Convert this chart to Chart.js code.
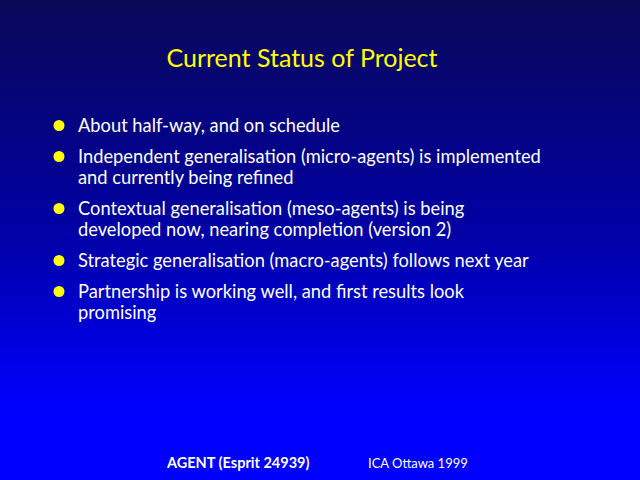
<!DOCTYPE html>
<html>
<head>
<meta charset="utf-8">
<script src="https://cdn.jsdelivr.net/npm/chart.js@4"></script>
<style>
  html, body { margin: 0; padding: 0; }
  body { width: 640px; height: 480px; overflow: hidden; }
  .slide {
    position: relative; width: 640px; height: 480px;
    background: linear-gradient(to bottom, #0a0858 0%, #0000a8 50%, #0000ff 85%, #0000ff 100%);
    font-family: Lato, "Open Sans", sans-serif;
  }
  .title {
    position: absolute; left: 0; width: 604px; top: 40px;
    text-align: center; color: #ffff00; font-size: 25px; line-height: 34px;
  }
  .items {
    position: absolute; left: 78px; top: 115px; width: 550px;
    margin: 0; padding: 0; list-style: none;
    color: #ffffff; font-size: 18.3px; line-height: 21px;
  }
  .items li { margin: 0 0 10px 0; }
  #bullets { position: absolute; left: 48px; top: 115px; }
  .footer { position: absolute; top: 454px; color: #ffffff; line-height: 18px; }
</style>
</head>
<body>
<div class="slide">
  <div class="title" id="title"></div>
  <canvas id="bullets"></canvas>
  <ul class="items" id="items"></ul>
  <div class="footer" style="left:167px;font-weight:bold;font-size:14.5px;" id="foot1"></div>
  <div class="footer" style="left:368px;font-size:13px;" id="foot2"></div>
</div>
<script>
const titleText = 'Current Status of Project';
const itemLines = [
  ['About half-way, and on schedule'],
  ['Independent generalisation (micro-agents) is implemented', 'and currently being refined'],
  ['Contextual generalisation (meso-agents) is being', 'developed now, nearing completion (version 2)'],
  ['Strategic generalisation (macro-agents) follows next year'],
  ['Partnership is working well, and first results look', 'promising']
];
const footerLeft = 'AGENT (Esprit 24939)';
const footerRight = 'ICA Ottawa 1999';

// list layout in px: line height and gap between items
const lineH = 21;
const gap = 10;

document.getElementById('title').textContent = titleText;
document.getElementById('foot1').textContent = footerLeft;
document.getElementById('foot2').textContent = footerRight;

const list = document.getElementById('items');
itemLines.forEach(lines => {
  const li = document.createElement('li');
  lines.forEach((t, i) => {
    if (i > 0) li.appendChild(document.createElement('br'));
    li.appendChild(document.createTextNode(t));
  });
  list.appendChild(li);
});

// bullet positions follow the line counts of each item
const bulletPoints = [];
let used = 0;
itemLines.forEach((lines, i) => {
  bulletPoints.push({ x: 0.5, y: used * lineH + i * gap + lineH / 2 });
  used += lines.length;
});
const totalH = used * lineH + (itemLines.length - 1) * gap;

const canvas = document.getElementById('bullets');
canvas.width = 22;
canvas.height = totalH;
canvas.style.width = '22px';
canvas.style.height = totalH + 'px';

new Chart(canvas, {
  type: 'scatter',
  data: {
    datasets: [{
      data: bulletPoints,
      pointRadius: 5.5,
      pointHoverRadius: 5.5,
      backgroundColor: '#ffff00',
      borderWidth: 0
    }]
  },
  options: {
    responsive: false,
    animation: false,
    events: [],
    layout: { padding: 0, autoPadding: false },
    plugins: { legend: { display: false }, tooltip: { enabled: false } },
    scales: {
      x: { display: false, min: 0, max: 1 },
      y: { display: false, min: 0, max: totalH, reverse: true }
    }
  }
});
</script>
</body>
</html>
